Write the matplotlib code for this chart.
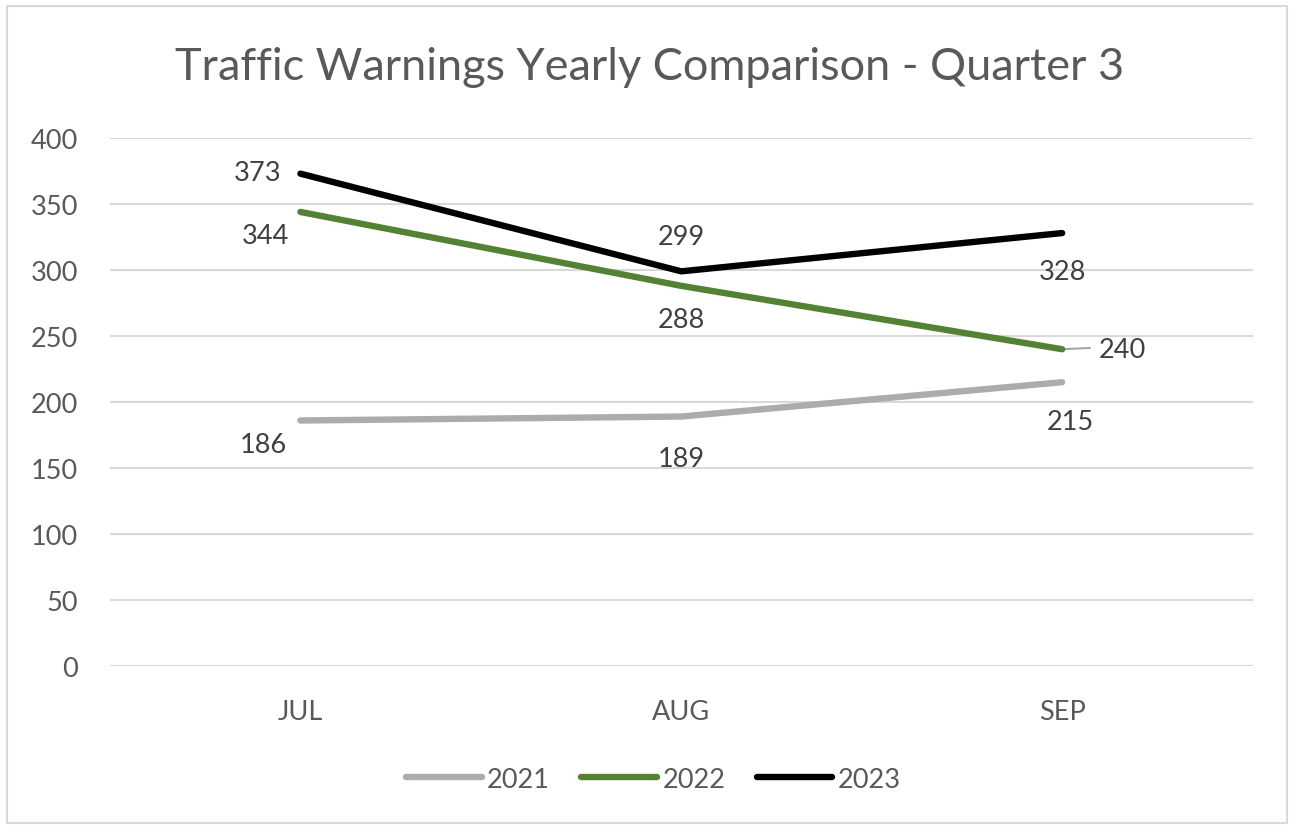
import matplotlib.pyplot as plt
from matplotlib.patches import Rectangle

months = ["JUL", "AUG", "SEP"]
years = ["2021", "2022", "2023"]
warnings_2021 = [186, 189, 215]
warnings_2022 = [344, 288, 240]
warnings_2023 = [373, 299, 328]

colors = ["#AEABAB", "#548235", "#000000"]
text_color = "#595959"
label_color = "#404040"

plt.rcParams["font.family"] = ["Lato", "DejaVu Sans"]

fig = plt.figure(figsize=(12.94, 8.29), dpi=100)
ax = fig.add_axes([0.085, 0.1954, 0.883, 0.6369])

x = list(range(len(months)))
series = [warnings_2021, warnings_2022, warnings_2023]
for vals, col, yr in zip(series, colors, years):
    ax.plot(x, vals, color=col, lw=4.6, solid_capstyle="round",
            solid_joinstyle="round", label=yr, zorder=3)

# data labels (offsets in points)
lab_kw = dict(textcoords="offset points", fontsize=19.5, color=label_color)
offsets_2021 = [(-10, -17, "right", "center"), (0, -30, "center", "center"), (6, -28, "center", "center")]
offsets_2022 = [(-8, -17, "right", "center"), (0, -24, "center", "center"), (26, 0, "left", "center")]
offsets_2023 = [(-14, 1, "right", "center"), (0, 25, "center", "center"), (0, -28, "center", "center")]
for vals, offs in [(warnings_2021, offsets_2021), (warnings_2022, offsets_2022), (warnings_2023, offsets_2023)]:
    for i, (v, (dx, dy, ha, va)) in enumerate(zip(vals, offs)):
        ax.annotate(str(v), (i, v), xytext=(dx, dy), ha=ha, va=va, **lab_kw)

# leader line for 240
ax.annotate("", (2, warnings_2022[2]), xytext=(22, 1), textcoords="offset points",
            arrowprops=dict(arrowstyle="-", color="#A6A6A6", lw=1.5), zorder=2)

ax.set_xlim(-0.5, 2.5)
ax.set_ylim(0, 400)
ax.set_yticks(range(0, 401, 50))
ax.set_xticks(x)
ax.set_xticklabels(months)
ax.grid(axis="y", color="#D9D9D9", lw=1.5)
ax.set_axisbelow(True)
for s in ax.spines.values():
    s.set_visible(False)
ax.tick_params(length=0, labelsize=19.5, labelcolor=text_color)
ax.tick_params(axis="x", pad=24)
ax.tick_params(axis="y", pad=23)

fig.text(0.502, 0.918, "Traffic Warnings Yearly Comparison - Quarter 3",
         ha="center", va="center", fontsize=32.5, color=text_color)

fig.legend(loc="center", bbox_to_anchor=(0.505, 0.059), ncol=3, frameon=False,
           fontsize=19.5, handlelength=2.8, handletextpad=0.2, columnspacing=1.15,
           labelcolor=text_color)

fig.patches.append(Rectangle((0.0055, 0.006), 0.989, 0.986, transform=fig.transFigure,
                             fill=False, edgecolor="#D9D9D9", lw=1.5))

fig.savefig("out.png", dpi=100)
